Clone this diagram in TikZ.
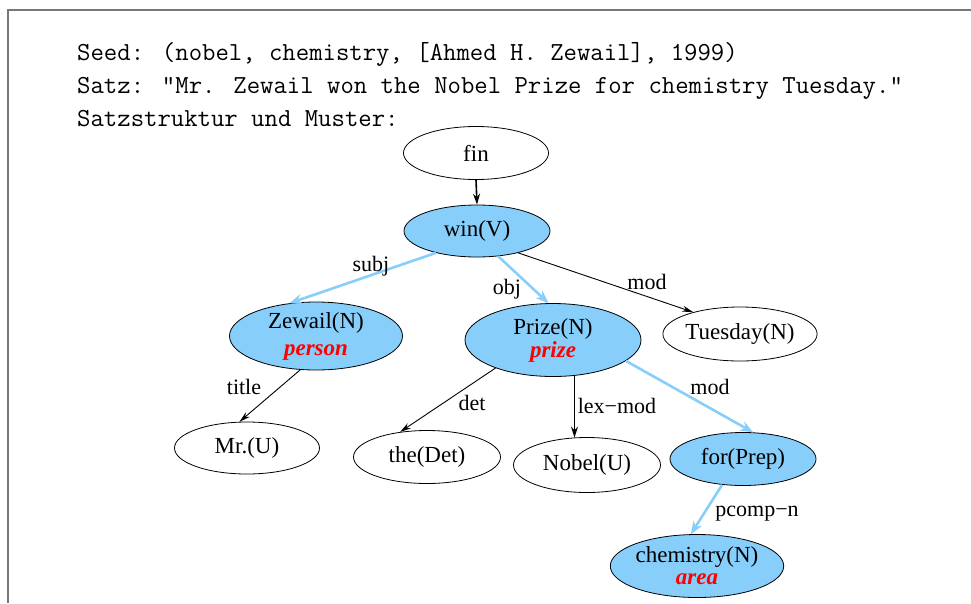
\documentclass[tikz,border=0pt]{standalone}
\usepackage{fontspec}
\newfontfamily\tms{Liberation Serif}
\usetikzlibrary{arrows.meta,shapes.geometric}
\definecolor{skyfill}{RGB}{135,206,250}
\definecolor{skyline}{RGB}{135,206,250}
\definecolor{framegray}{RGB}{120,120,120}
\definecolor{semred}{RGB}{255,0,0}
\tikzset{
  word/.style={ellipse,draw=black,line width=0.8pt,inner sep=0pt,align=center,
    font=\tms\fontsize{23}{23}\selectfont},
  hit/.style={word,fill=skyfill},
  elabel/.style={font=\tms\fontsize{22}{22}\selectfont,inner sep=0pt},
  thinarc/.style={line width=0.9pt,-{Stealth[length=11pt,width=6pt]}},
  boldarc/.style={line width=1.6pt,-{Stealth[length=11pt,width=7pt]}},
  bluearc/.style={draw=skyline,line width=2.6pt,-{Stealth[length=13pt,width=10pt]}},
  headline/.style={anchor=base west,inner sep=0pt,font=\ttfamily\fontsize{26}{26}\selectfont}
}
\newcommand{\semtag}[1]{{\color{semred}\bfseries\itshape #1}}
\begin{document}
\begin{tikzpicture}[x=1pt,y=-1pt]
\useasboundingbox (0,0) rectangle (971,603);
% frame
\coordinate (fbl) at (7.5,603);
\coordinate (ftl) at (7.5,9.5);
\coordinate (ftr) at (971,9.5);
\draw[framegray,line width=2pt] (fbl) -- (ftl) -- (ftr);
% header lines
\node[headline] (seed) at (77,60) {Seed: (nobel, chemistry, [Ahmed H. Zewail], 1999)};
\node[headline] (satz) at (77,93) {Satz: "Mr. Zewail won the Nobel Prize for chemistry Tuesday."};
\node[headline] (muster) at (77,126) {Satzstruktur und Muster:};
% tree nodes
\node[word,minimum width=145pt,minimum height=53pt] (fin) at (476,153) {fin};
\node[hit,minimum width=146pt,minimum height=52pt] (win) at (477,231) {win(V)};
\node[hit,minimum width=173pt,minimum height=68pt] (zewail) at (316,336) {Zewail(N)\\[4pt]\semtag{person}};
\node[hit,minimum width=176pt,minimum height=73pt] (prize) at (553,340) {Prize(N)\\\semtag{prize}};
\node[word,minimum width=146pt,minimum height=54pt] (tuesday) at (740,334) {Tuesday(N)};
\node[word,minimum width=145pt,minimum height=52pt] (mr) at (247,448) {Mr.(U)};
\node[word,minimum width=147pt,minimum height=53pt] (the) at (427,457) {the(Det)};
\node[word,minimum width=147pt,minimum height=55pt] (nobel) at (587,465) {Nobel(U)};
\node[hit,minimum width=146pt,minimum height=53pt] (for) at (743,459) {for(Prep)};
\node[hit,minimum width=172pt,minimum height=63pt] (chem) at (697,566) {chemistry(N)\\[-1pt]\semtag{area}};
% dependency arcs
\draw[boldarc] (fin.south) -- (win.north);
\draw[bluearc] (win.208) -- (zewail.129.5);
\draw[bluearc] (win.310) -- (prize.97);
\draw[thinarc] (win.332) -- (tuesday.155);
\draw[thinarc] (zewail.245.6) -- (mr.106);
\draw[thinarc] (prize.206.6) -- (the.137.6);
\draw[boldarc] (prize.301) -- (prize.301 |- nobel.116.6);
\draw[bluearc] (prize.344.7) -- (for.69);
\draw[bluearc] (for.231) -- (chem.101.6);
% arc labels
\node[elabel] (lsubj) at (371,266) {subj};
\node[elabel] (lobj) at (507,289) {obj};
\node[elabel] (lmod) at (647,282) {mod};
\node[elabel] (ltitle) at (244,387) {title};
\node[elabel] (ldet) at (472,403) {det};
\node[elabel] (llex) at (617,406) {lex−mod};
\node[elabel] (lmodb) at (710,387) {mod};
\node[elabel] (lpcomp) at (757,514) {pcomp−n};
\end{tikzpicture}
\end{document}
